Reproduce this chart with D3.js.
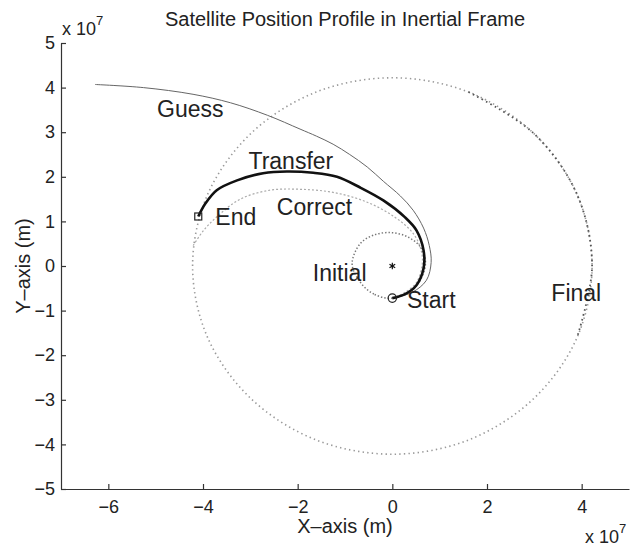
<!DOCTYPE html>
<html>
<head>
<meta charset="utf-8">
<script src="https://cdn.jsdelivr.net/npm/d3@7"></script>
<style>
  body { margin: 0; background: #fff; }
  text { font-family: "Liberation Sans", Arial, sans-serif; fill: #222; }
</style>
</head>
<body>
<svg width="631" height="546"></svg>
<script>
// all positions in units of 1e7 m
let xTicks = [-6, -4, -2, 0, 2, 4];
let yTicks = [-5, -4, -3, -2, -1, 0, 1, 2, 3, 4, 5];

let initialOrbit = [[0, -0.72], [-0.39, -0.63], [-0.68, -0.36], [-0.85, 0.05], [-0.68, 0.5], [-0.4, 0.69],
                    [-0.04, 0.75], [0.31, 0.66], [0.59, 0.43], [0.7, 0.05], [0.5, -0.45]];

let finalOrbit = [[4.22, 0], [3.9, 1.61], [2.98, 2.98], [1.61, 3.9], [0, 4.22], [-1.61, 3.9], [-2.98, 2.98],
                  [-3.9, 1.61], [-4.22, 0], [-3.9, -1.61], [-2.98, -2.98], [-1.61, -3.9], [0, -4.22],
                  [1.61, -3.9], [2.98, -2.98], [3.9, -1.61]];
let finalDark = [[1.61, 3.9], [2.98, 2.98], [3.9, 1.61], [4.22, 0], [3.9, -1.61]];

let guess = [[0, -0.72], [0.42, -0.59], [0.72, -0.32], [0.82, 0.08], [0.78, 0.46], [0.66, 0.85], [0.44, 1.25],
             [0.17, 1.57], [-0.19, 1.9], [-0.53, 2.22], [-0.9, 2.5], [-1.25, 2.73], [-1.6, 2.91], [-1.95, 3.07],
             [-2.64, 3.38], [-3.42, 3.66], [-4.21, 3.85], [-5.26, 4.0], [-6.28, 4.07]];

let correct = [[0, -0.72], [0.27, -0.59], [0.51, -0.37], [0.63, 0.02], [0.61, 0.35], [0.44, 0.73], [0.06, 1.09],
               [-0.53, 1.43], [-1.25, 1.65], [-1.95, 1.72], [-2.58, 1.7], [-3.21, 1.5], [-3.7, 1.11],
               [-4.0, 0.78], [-4.23, 0.42]];

let transfer = [[0, -0.72], [0.27, -0.63], [0.51, -0.43], [0.66, -0.05], [0.66, 0.35], [0.51, 0.8], [0.27, 1.09],
                [-0.19, 1.47], [-0.68, 1.76], [-1.17, 2.0], [-1.67, 2.09], [-2.23, 2.12], [-2.73, 2.08],
                [-3.28, 1.92], [-3.71, 1.7], [-3.95, 1.4], [-4.1, 1.11]];

let startPt = [0, -0.72], endPt = [-4.1, 1.11], earth = [0, 0];

let labels = [
  {text: "Guess", x: -4.97, y: 3.33},
  {text: "Transfer", x: -3.04, y: 2.18},
  {text: "End", x: -3.74, y: 0.93},
  {text: "Correct", x: -2.44, y: 1.14},
  {text: "Initial", x: -1.68, y: -0.34},
  {text: "Start", x: 0.31, y: -0.94},
  {text: "Final", x: 3.36, y: -0.78}
];

let svg = d3.select("svg"),
    margin = {top: 43, right: 2, bottom: 57, left: 61},
    width = +svg.attr("width") - margin.left - margin.right,
    height = +svg.attr("height") - margin.top - margin.bottom,
    g = svg.append("g").attr("transform", "translate(" + margin.left + "," + margin.top + ")");

let x = d3.scaleLinear().domain([-7, 5]).range([0, width]);
let y = d3.scaleLinear().domain([-5, 5]).range([height, 0]);

let line = d3.line().x(d => x(d[0])).y(d => y(d[1])).curve(d3.curveCatmullRom);
let loop = d3.line().x(d => x(d[0])).y(d => y(d[1])).curve(d3.curveCatmullRomClosed);

// orbits
g.append("path").attr("d", loop(finalOrbit))
    .attr("fill", "none").attr("stroke", "#999").attr("stroke-width", 1.6)
    .attr("stroke-dasharray", "1.4,3.2");
g.append("path").attr("d", line(finalDark))
    .attr("fill", "none").attr("stroke", "#555").attr("stroke-width", 1.8)
    .attr("stroke-dasharray", "1.6,3.4");
g.append("path").attr("d", loop(initialOrbit))
    .attr("fill", "none").attr("stroke", "#777").attr("stroke-width", 1.5)
    .attr("stroke-dasharray", "1.4,2");

g.append("path").attr("d", line(correct))
    .attr("fill", "none").attr("stroke", "#aaa").attr("stroke-width", 1.2)
    .attr("stroke-dasharray", "2,2");
g.append("path").attr("d", line(guess))
    .attr("fill", "none").attr("stroke", "#666").attr("stroke-width", 1);
g.append("path").attr("d", line(transfer))
    .attr("fill", "none").attr("stroke", "#111").attr("stroke-width", 2.6);

// markers
g.append("circle").attr("cx", x(startPt[0])).attr("cy", y(startPt[1])).attr("r", 4.2)
    .attr("fill", "none").attr("stroke", "#222").attr("stroke-width", 1.2);
g.append("rect").attr("x", x(endPt[0]) - 3.5).attr("y", y(endPt[1]) - 3.5)
    .attr("width", 7).attr("height", 7)
    .attr("fill", "none").attr("stroke", "#222").attr("stroke-width", 1.2);
g.append("path").attr("d", d3.symbol(d3.symbolAsterisk, 30)())
    .attr("transform", "translate(" + x(earth[0]) + "," + y(earth[1]) + ")")
    .attr("fill", "none").attr("stroke", "#111").attr("stroke-width", 1.2);

// labels
g.append("g").selectAll("text")
    .data(labels)
    .enter().append("text")
      .attr("x", d => x(d.x))
      .attr("y", d => y(d.y))
      .attr("font-size", 23)
      .text(d => d.text);

// axes
let fmt = d => d3.format("d")(d);
let xAxis = g.append("g")
    .attr("transform", "translate(0," + height + ")")
    .call(d3.axisBottom(x).tickValues(xTicks).tickSize(-5).tickPadding(11).tickSizeOuter(0).tickFormat(fmt));
let yAxis = g.append("g")
    .call(d3.axisLeft(y).tickValues(yTicks).tickSize(-5).tickPadding(6).tickSizeOuter(0).tickFormat(fmt));

[xAxis, yAxis].forEach(a => {
  a.selectAll("path, line").attr("stroke", "#333").attr("stroke-width", 1.2);
  a.selectAll("text").attr("font-size", 18).attr("fill", "#222")
    .attr("font-family", "Liberation Sans, Arial, sans-serif");
});

// exponent notes
let xe = svg.append("text").attr("x", 585).attr("y", 543).attr("font-size", 18);
xe.append("tspan").text("x 10");
xe.append("tspan").attr("dy", -10).attr("font-size", 13).text("7");
let ye = svg.append("text").attr("x", 62).attr("y", 35).attr("font-size", 18);
ye.append("tspan").text("x 10");
ye.append("tspan").attr("dy", -10).attr("font-size", 13).text("7");

// titles
svg.append("text")
    .attr("x", margin.left + width / 2).attr("y", 26)
    .attr("text-anchor", "middle").attr("font-size", 20)
    .text("Satellite Position Profile in Inertial Frame");

svg.append("text")
    .attr("x", margin.left + width / 2).attr("y", 533)
    .attr("text-anchor", "middle").attr("font-size", 20)
    .text("X–axis (m)");

svg.append("text")
    .attr("transform", "translate(30," + (margin.top + height / 2) + ") rotate(-90)")
    .attr("text-anchor", "middle").attr("font-size", 20)
    .text("Y–axis (m)");
</script>
</body>
</html>
